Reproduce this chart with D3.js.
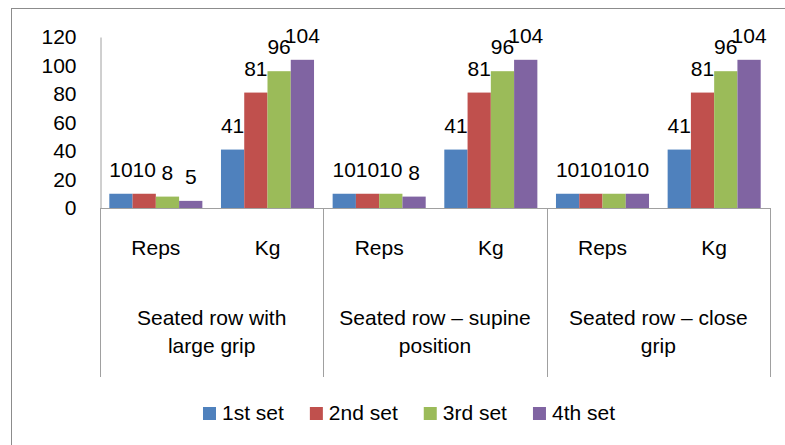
<!DOCTYPE html>
<html>
<head>
<meta charset="utf-8">
<script src="https://cdn.jsdelivr.net/npm/d3@7/dist/d3.min.js"></script>
<style>
  html, body { margin: 0; padding: 0; background: #fff; }
  svg { display: block; }
  text { font-family: "Liberation Sans", Arial, sans-serif; fill: #000; }
</style>
</head>
<body>
<svg id="chart" width="785" height="445"></svg>
<script>
// ---- data ----
const groupLines = [
  ["Seated row with", "large grip"],
  ["Seated row \u2013 supine", "position"],
  ["Seated row \u2013 close", "grip"]
];
const measures = ["Reps", "Kg"];
const seriesNames = ["1st set", "2nd set", "3rd set", "4th set"];
const set1 = [10, 41, 10, 41, 10, 41];
const set2 = [10, 81, 10, 81, 10, 81];
const set3 = [8, 96, 10, 96, 10, 96];
const set4 = [5, 104, 8, 104, 10, 104];
const yTicks = [0, 20, 40, 60, 80, 100, 120];
const colors = ["#4F81BD", "#C0504D", "#9BBB59", "#8064A2"];

const seriesValues = [set1, set2, set3, set4];
const cats = [];
groupLines.forEach((g, gi) => measures.forEach(m => cats.push(gi + "|" + m)));

const svg = d3.select("#chart");

// outer frame (right/bottom edges fall outside the picture)
svg.append("rect")
  .attr("x", 11.5).attr("y", 8.5)
  .attr("width", 800).attr("height", 460)
  .attr("fill", "none").attr("stroke", "#8c8c8c").attr("stroke-width", 1);

const plotL = 100, plotR = 770, plotT = 37, plotB = 208;

const x0 = d3.scaleBand().domain(cats).range([plotL, plotR]).paddingInner(0).paddingOuter(0);
const x1 = d3.scaleBand().domain(seriesNames).range([0, x0.bandwidth()]).paddingInner(0).paddingOuter(0.4);
const y = d3.scaleLinear().domain([0, 120]).range([plotB, plotT]);

// y axis
const yAxis = d3.axisLeft(y).tickValues(yTicks).tickSize(0).tickPadding(24);
const yg = svg.append("g").attr("transform", `translate(${plotL + 0.5},0)`).call(yAxis);
yg.select(".domain").attr("stroke", "#a0a0a0");
yg.selectAll("text").attr("font-size", 21).style("font-family", '"Liberation Sans", Arial, sans-serif').attr("fill", "#000");

// bars
const barG = svg.append("g");
seriesNames.forEach((s, si) => {
  barG.selectAll(null)
    .data(seriesValues[si].map((v, i) => ({ v, c: cats[i] })))
    .enter().append("rect")
    .attr("x", d => x0(d.c) + x1(s))
    .attr("width", x1.bandwidth())
    .attr("y", d => y(d.v))
    .attr("height", d => y(0) - y(d.v))
    .attr("fill", colors[si]);
});

// data labels
const labG = svg.append("g");
seriesNames.forEach((s, si) => {
  labG.selectAll(null)
    .data(seriesValues[si].map((v, i) => ({ v, c: cats[i] })))
    .enter().append("text")
    .attr("x", d => x0(d.c) + x1(s) + x1.bandwidth() / 2)
    .attr("y", d => y(d.v) - 17)
    .attr("text-anchor", "middle")
    .attr("font-size", 21)
    .text(d => d.v);
});

// x axis baseline
svg.append("line")
  .attr("x1", plotL).attr("x2", plotR)
  .attr("y1", plotB + 0.5).attr("y2", plotB + 0.5)
  .attr("stroke", "#a0a0a0");

// group separators
const sepBottom = 377;
const sepXs = [0, 1, 2].map(gi => x0(gi + "|" + measures[0])).concat([plotR]);
svg.selectAll(null).data(sepXs).enter().append("line")
  .attr("x1", d => Math.round(d) + 0.5).attr("x2", d => Math.round(d) + 0.5)
  .attr("y1", plotB).attr("y2", sepBottom)
  .attr("stroke", "#a0a0a0");

// measure labels
const xAxis = d3.axisBottom(x0).tickSize(0).tickPadding(0).tickFormat(d => d.split("|")[1]);
const xg = svg.append("g").attr("transform", `translate(0,${plotB})`).call(xAxis);
xg.select(".domain").remove();
xg.selectAll("text")
  .attr("dy", null).attr("y", 47)
  .attr("font-size", 21)
  .style("font-family", '"Liberation Sans", Arial, sans-serif')
  .attr("fill", "#000");

// group labels
groupLines.forEach((lines, gi) => {
  const cx = (x0(gi + "|" + measures[0]) + x0(gi + "|" + measures[1]) + x0.bandwidth()) / 2;
  const t = svg.append("text").attr("text-anchor", "middle").attr("font-size", 21);
  lines.forEach((ln, li) => {
    t.append("tspan").attr("x", cx).attr("y", 325 + li * 28).text(ln);
  });
});

// legend
const legG = svg.append("g");
const items = seriesNames.map((s, i) => {
  const g = legG.append("g");
  g.append("rect").attr("x", 0).attr("y", -13).attr("width", 13).attr("height", 13).attr("fill", colors[i]);
  const t = g.append("text").attr("x", 19).attr("y", 0).attr("font-size", 21).text(s);
  return { g, w: 19 + t.node().getComputedTextLength() };
});
const gap = 26;
const totalW = d3.sum(items, d => d.w) + gap * (items.length - 1);
let lx = 409 - totalW / 2;
items.forEach(it => {
  it.g.attr("transform", `translate(${lx},420)`);
  lx += it.w + gap;
});
</script>
</body>
</html>
